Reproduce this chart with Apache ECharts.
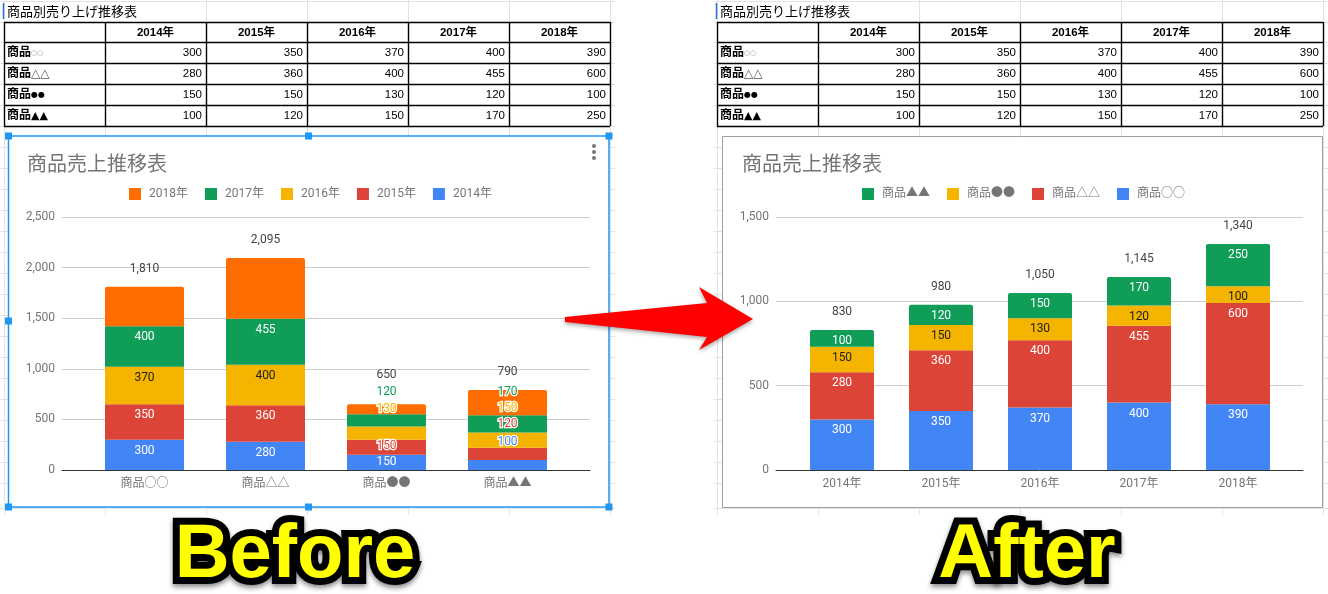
<!DOCTYPE html>
<html><head><meta charset="utf-8">
<script src="https://cdn.jsdelivr.net/npm/echarts/dist/echarts.min.js"></script>
<style>html,body{margin:0;padding:0;background:#fff}#c{width:1328px;height:594px}</style>
</head><body><div id="c"></div>
<script>
// ---------- data ----------
const tableTitle = '商品別売り上げ推移表';
const chartTitle = '商品売上推移表';
const years = ['2014年', '2015年', '2016年', '2017年', '2018年'];
const products = ['商品○○', '商品△△', '商品●●', '商品▲▲'];
const salesCircle = [300, 350, 370, 400, 390];
const salesTriangle = [280, 360, 400, 455, 600];
const salesDot = [150, 150, 130, 120, 100];
const salesBlackTri = [100, 120, 150, 170, 250];
const totalsBefore = [1810, 2095, 650, 790];
const totalsAfter = [830, 980, 1050, 1145, 1340];
const yMaxBefore = 2500, yMaxAfter = 1500, yStep = 500;
const captionBefore = 'Before', captionAfter = 'After';

// ---------- styling ----------
const FONT = 'Roboto, "Noto Sans CJK JP", sans-serif';
const SHEETFONT = '"Liberation Sans", Arial, "Noto Sans CJK JP", sans-serif';
const yearColors = ['#4285F4', '#DB4437', '#F4B400', '#0F9D58', '#FF6D00'];
const productColors = ['#4285F4', '#DB4437', '#F4B400', '#0F9D58'];
const rowsByProduct = [salesCircle, salesTriangle, salesDot, salesBlackTri];
const fmt = v => Number(v).toLocaleString('en-US');

// ---------- graphic (spreadsheet background, boxes, arrow, captions) ----------
const G = [];
function line(x1, y1, x2, y2, color, w, z) {
  G.push({ type: 'line', silent: true, z: z, shape: { x1, y1, x2, y2 }, style: { stroke: color, lineWidth: w } });
}
function txt(x, y, str, st, z) {
  G.push({ type: 'text', silent: true, z: z, x: x, y: y,
    style: Object.assign({ text: str, fill: '#000', fontSize: 12, fontFamily: SHEETFONT }, st) });
}
const colBounds = [4, 105, 206, 307, 408, 509, 610];
const rowBounds = [22, 42, 63, 84, 105, 126];
const symSize = { '○': 7, '△': 12, '●': 8, '▲': 11 };
const symColor = { '○': '#888', '△': '#555', '●': '#000', '▲': '#000' };
[[0, 0, 615], [713, 714, 1328]].forEach(([ox, x0, x1]) => {
  const hs = [1].concat(rowBounds);
  for (let y = 147; y <= 483; y += 21) hs.push(y);
  hs.push(508);
  hs.forEach(y => line(x0, y + 0.5, x1, y + 0.5, '#e2e2e2', 1, -30));
  colBounds.forEach((x, i) => line(x + ox + 0.5, i === 1 ? 22 : 0, x + ox + 0.5, 515, '#e2e2e2', 1, -30));
  // table borders
  rowBounds.forEach(y => line(colBounds[0] + ox, y + 0.5, colBounds[6] + ox, y + 0.5, '#000', 1.4, -20));
  colBounds.forEach(x => line(x + ox + 0.5, rowBounds[0], x + ox + 0.5, rowBounds[5], '#000', 1.4, -20));
  // cell cursor
  line(ox + 3.5, 3, ox + 3.5, 19, '#1a73e8', 1.5, -19);
  // texts
  txt(ox + 7, 12, tableTitle, { fontSize: 13, verticalAlign: 'middle', textVerticalAlign: 'middle' }, -19);
  years.forEach((yr, i) => txt((colBounds[i + 1] + colBounds[i + 2]) / 2 + ox, 32.5, yr,
    { fontSize: 11.5, fontWeight: 'bold', align: 'center', textAlign: 'center', verticalAlign: 'middle', textVerticalAlign: 'middle' }, -19));
  products.forEach((p, r) => {
    const cy = (rowBounds[r + 1] + rowBounds[r + 2]) / 2 + 0.5;
    const sym = p.slice(2, 3);
    txt(ox + 7, cy, '{b|' + p.slice(0, 2) + '}{s|' + p.slice(2) + '}', {
      verticalAlign: 'middle', textVerticalAlign: 'middle',
      rich: { b: { fontSize: 12, fontWeight: 'bold', fontFamily: SHEETFONT, fill: '#000' },
              s: { fontSize: symSize[sym], fontFamily: 'DejaVu Sans', fill: symColor[sym] } } }, -19);
    rowsByProduct[r].forEach((v, c) => txt(colBounds[c + 2] + ox - 4, cy, String(v),
      { fontSize: 11.5, align: 'right', textAlign: 'right', verticalAlign: 'middle', textVerticalAlign: 'middle' }, -19));
  });
});
// chart boxes
G.push({ type: 'rect', silent: true, z: -10, shape: { x: 8.5, y: 136, width: 600.5, height: 371 },
  style: { fill: '#fff', stroke: '#2196F3', lineWidth: 1.5 } });
G.push({ type: 'rect', silent: true, z: -10, shape: { x: 722.5, y: 136.5, width: 600, height: 371 },
  style: { fill: '#fff', stroke: '#9e9e9e', lineWidth: 1 } });
[[8.5, 136], [308.5, 136], [609, 136], [8.5, 321], [609, 321], [8.5, 507], [308.5, 507], [609, 507]].forEach(([x, y]) =>
  G.push({ type: 'rect', silent: true, z: -5, shape: { x: x - 3.5, y: y - 3.5, width: 7, height: 7 }, style: { fill: '#2196F3' } }));
[146, 152, 158].forEach(y => G.push({ type: 'circle', silent: true, z: -5, shape: { cx: 594, cy: y, r: 2 }, style: { fill: '#757575' } }));
// arrow
G.push({ type: 'polygon', silent: true, z: 50,
  shape: { points: [[565, 317], [707, 303], [699, 287], [753, 319], [699, 350], [707, 337], [565, 322]] },
  style: { fill: '#ff0000', shadowBlur: 4, shadowColor: 'rgba(0,0,0,0.35)', shadowOffsetY: 2 } });
// captions
[[captionBefore, 295], [captionAfter, 1027]].forEach(([t, x]) => G.push({ type: 'text', silent: true, z: 50, x: x, y: 556,
  style: { text: t, fontSize: 76, fontWeight: 'bold', fontFamily: '"Liberation Sans", Arial, sans-serif',
    fill: '#FFFF00', stroke: '#000', lineWidth: 14, align: 'center', textAlign: 'center',
    verticalAlign: 'middle', textVerticalAlign: 'middle',
    textShadowColor: 'rgba(0,0,0,0.45)', textShadowBlur: 5, textShadowOffsetY: 3 } }));

// ---------- series ----------
const labelBase = { show: true, position: 'insideTop', distance: 5, fontSize: 12, fontFamily: FONT };
const beforeTweaks = {
  '0,2': { dy: -4 }, '1,2': { dy: -5, own: true }, '2,2': { dy: -28, own: true }, '3,2': { dy: -33, own: true },
  '0,3': { dy: -29, own: true }, '1,3': { dy: -35, own: true }, '2,3': { dy: -36, own: true }, '3,3': { dy: -34, own: true }
};
const series = [];
years.forEach((yr, i) => {
  const col = yearColors[i];
  series.push({
    name: yr, type: 'bar', stack: 'before', xAxisIndex: 1, yAxisIndex: 1, barWidth: 79,
    itemStyle: { color: col, borderRadius: i === years.length - 1 ? [2, 2, 0, 0] : 0 },
    label: Object.assign({}, labelBase, { show: i < 4, color: i === 2 ? '#212121' : '#fff' }),
    data: rowsByProduct.map((row, j) => {
      const t = beforeTweaks[i + ',' + j];
      if (!t) return row[i];
      const lab = { offset: [0, t.dy] };
      if (t.own) Object.assign(lab, { color: col, textBorderColor: '#fff', textBorderWidth: 2.5 });
      return { value: row[i], label: lab };
    })
  });
});
series.push({
  name: 'totalBefore', type: 'bar', stack: 'before', xAxisIndex: 1, yAxisIndex: 1, barWidth: 79,
  itemStyle: { color: 'rgba(0,0,0,0)' },
  label: { show: true, position: 'top', distance: 12, color: '#444', fontSize: 12, fontFamily: FONT,
    formatter: p => fmt(totalsBefore[p.dataIndex]) },
  data: products.map((p, j) => j === 2 ? { value: 0, label: { offset: [0, -11] } } : 0)
});
products.forEach((p, j) => {
  series.push({
    name: p, type: 'bar', stack: 'after', xAxisIndex: 3, yAxisIndex: 3, barWidth: 64,
    itemStyle: { color: productColors[j], borderRadius: j === products.length - 1 ? [2, 2, 0, 0] : 0 },
    label: Object.assign({}, labelBase, { color: j === 2 ? '#212121' : '#fff' }),
    data: rowsByProduct[j].slice()
  });
});
series.push({
  name: 'totalAfter', type: 'bar', stack: 'after', xAxisIndex: 3, yAxisIndex: 3, barWidth: 64,
  itemStyle: { color: 'rgba(0,0,0,0)' },
  label: { show: true, position: 'top', distance: 12, color: '#444', fontSize: 12, fontFamily: FONT,
    formatter: p => fmt(totalsAfter[p.dataIndex]) },
  data: years.map(() => 0)
});

// ---------- axes ----------
const frameX = gi => ({ gridIndex: gi, type: 'value', min: 0, max: 1, axisLine: { show: true, lineStyle: { color: '#333', width: 1 } },
  axisTick: { show: false }, axisLabel: { show: false }, splitLine: { show: false } });
const catX = (gi, data) => ({ gridIndex: gi, type: 'category', data: data, axisLine: { show: false }, axisTick: { show: false },
  axisLabel: { color: '#757575', fontSize: 12, fontFamily: FONT, margin: 8, interval: 0 } });
const frameY = (gi, max) => ({ gridIndex: gi, type: 'value', min: 0, max: max, interval: yStep,
  axisLine: { show: false }, axisTick: { show: false },
  axisLabel: { color: '#757575', fontSize: 12, fontFamily: FONT, margin: 7, formatter: fmt },
  splitLine: { lineStyle: { color: '#cccccc', width: 1 } } });
const hidY = (gi, max) => ({ gridIndex: gi, type: 'value', min: 0, max: max, show: false });
const grid = (l, w) => ({ left: l, top: 217, width: w, height: 253, containLabel: false, outerBoundsMode: 'none' });
const legend = (names, left) => ({ data: names, left: left, top: 188, padding: 0, itemWidth: 12, itemHeight: 12, itemGap: 17,
  icon: 'rect', selectedMode: false, itemStyle: { borderWidth: 0 },
  textStyle: { color: '#757575', fontSize: 12, fontFamily: FONT, padding: [0, 0, 0, 3] } });

const option = {
  animation: false,
  backgroundColor: '#fff',
  title: [
    { text: chartTitle, left: 27, top: 156, padding: 0, textStyle: { color: '#757575', fontSize: 20, fontWeight: 'normal', fontFamily: FONT } },
    { text: chartTitle, left: 742, top: 156, padding: 0, textStyle: { color: '#757575', fontSize: 20, fontWeight: 'normal', fontFamily: FONT } }
  ],
  legend: [legend(years.slice().reverse(), 129), legend(products.slice().reverse(), 862)],
  grid: [grid(62, 528), grid(84, 484), grid(776, 527), grid(792.5, 495)],
  xAxis: [frameX(0), catX(1, products), frameX(2), catX(3, years)],
  yAxis: [frameY(0, yMaxBefore), hidY(1, yMaxBefore), frameY(2, yMaxAfter), hidY(3, yMaxAfter)],
  series: series,
  graphic: { elements: G }
};
const chart = echarts.init(document.getElementById('c'));
chart.setOption(option);
</script></body></html>
